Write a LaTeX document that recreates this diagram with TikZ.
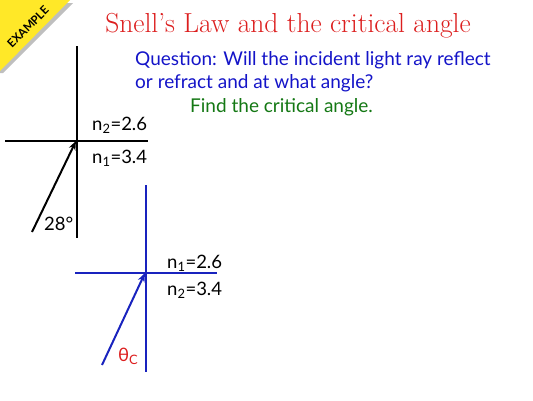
\documentclass[tikz,border=0pt]{standalone}
\usepackage{fontspec}
\setmainfont{Lato}
\usetikzlibrary{arrows.meta}
\definecolor{ttlred}{RGB}{220,30,30}
\definecolor{qblue}{RGB}{20,20,200}
\definecolor{fgreen}{RGB}{20,120,20}
\definecolor{lblue}{RGB}{25,35,190}
\definecolor{banner}{RGB}{255,232,40}
\tikzset{
  lbl/.style={inner sep=0pt, anchor=base west, font=\fontsize{18.5}{22}\selectfont},
  qtxt/.style={inner sep=0pt, anchor=base west, font=\fontsize{19}{23}\selectfont},
  ray/.style={line width=2pt, -{Stealth[length=9pt,width=7pt]}},
}
\begin{document}
\begin{tikzpicture}[x=1pt,y=-1pt]
\useasboundingbox (0,0) rectangle (533,400);
% banner
\fill[black!25] (0,3) -- (73,3) -- (3,73) -- (0,73) -- cycle;
\fill[banner] (0,0) -- (70,0) -- (0,71) -- cycle;
\node[rotate=45, font=\bfseries\fontsize{11.5}{12}\selectfont, inner sep=0pt] (ex) at (28,27) {EXAMPLE};
% title
\node[font=\fontsize{27.5}{30}\selectfont, text=ttlred, inner sep=0pt, anchor=base] (title) at (288,32) {\fontspec{Latin Modern Roman}Snell’s Law and the critical angle};
% question
\node[qtxt, text=qblue] (q1) at (135,65) {Question: Will the incident light ray reflect};
\node[qtxt, text=qblue] (q2) at (135,88) {or refract and at what angle?};
\node[qtxt, text=fgreen] (find) at (190,112) {Find the critical angle.};
% upper diagram
\coordinate (uvt) at (77,46);
\coordinate (uvb) at (77,238);
\coordinate (uhl) at (5,141);
\coordinate (uhr) at (148,141);
\coordinate (uo) at (76,141);
\coordinate (ua) at (32,232);
\draw[line width=1.5pt] (uvt) -- (uvb);
\draw[line width=2pt] (uhl) -- (uhr);
\draw[ray] (ua) -- (uo);
\node[lbl] (un2) at (92,130) {n\textsubscript{2}=2.6};
\node[lbl] (un1) at (92,163) {n\textsubscript{1}=3.4};
\node[lbl] (ang) at (44,230) {28°};
% lower diagram
\coordinate (lvt) at (146,185);
\coordinate (lvb) at (146,372);
\coordinate (lhl) at (75,273);
\coordinate (lhr) at (217,273);
\coordinate (lo) at (145,273);
\coordinate (la) at (102,365);
\draw[lblue, line width=2pt] (lvt) -- (lvb);
\draw[lblue, line width=2.5pt] (lhl) -- (lhr);
\draw[ray, lblue] (la) -- (lo);
\node[lbl] (ln1) at (167,268) {n\textsubscript{1}=2.6};
\node[lbl] (ln2) at (167,295) {n\textsubscript{2}=3.4};
\node[lbl, text=ttlred] (th) at (118,361) {θ\textsubscript{C}};
\end{tikzpicture}
\end{document}
